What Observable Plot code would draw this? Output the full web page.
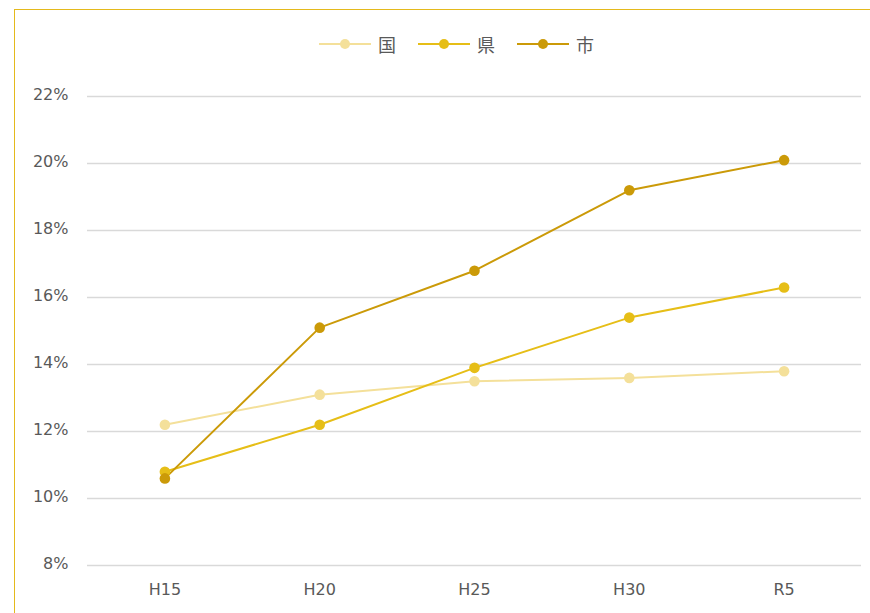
<!DOCTYPE html>
<html>
<head>
<meta charset="utf-8">
<script src="https://cdn.jsdelivr.net/npm/d3@7"></script>
<script src="https://cdn.jsdelivr.net/npm/@observablehq/plot@0.6"></script>
<style>
  html, body { margin: 0; padding: 0; background: #fff; overflow: hidden; }
  body { width: 870px; height: 613px; position: relative; font-family: "DejaVu Sans", Verdana, sans-serif; }
  #frame { position: absolute; left: 14px; top: 9px; width: 900px; height: 700px; border-left: 1.5px solid #e4b91c; border-top: 1.5px solid #e4b91c; box-sizing: border-box; }
  #legend { position: absolute; left: 319px; top: 30px; height: 28px; display: flex; align-items: center; font-family: "Noto Sans CJK JP", sans-serif; font-size: 18px; color: #595959; }
  .item { display: flex; align-items: center; width: 99px; }
  .item svg { margin-right: 7px; }
  #chart { position: absolute; left: 0; top: 60px; }
</style>
</head>
<body>
<div id="frame"></div>
<div id="legend"></div>
<div id="chart"></div>
<script>
const years = ["H15", "H20", "H25", "H30", "R5"];
const seriesNames = ["国", "県", "市"];
const kuni = [12.2, 13.1, 13.5, 13.6, 13.8];
const ken  = [10.8, 12.2, 13.9, 15.4, 16.3];
const shi  = [10.6, 15.1, 16.8, 19.2, 20.1];
const colors = ["#f4e09a", "#e6be17", "#cb9a08"];
const yTicks = [8, 10, 12, 14, 16, 18, 20, 22];

const seriesValues = [kuni, ken, shi];
const data = [];
seriesNames.forEach((s, i) => years.forEach((y, j) => data.push({series: s, year: y, value: seriesValues[i][j]})));

// legend
const legend = document.getElementById("legend");
seriesNames.forEach((s, i) => {
  const it = document.createElement("div");
  it.className = "item";
  it.innerHTML = `<svg width="52" height="12"><line x1="0" y1="6" x2="52" y2="6" stroke="${colors[i]}" stroke-width="2"/><circle cx="26" cy="6" r="5" fill="${colors[i]}"/></svg><span>${s}</span>`;
  legend.appendChild(it);
});

const chart = Plot.plot({
  width: 870,
  height: 553,
  marginTop: 36,
  marginBottom: 48,
  marginLeft: 87,
  marginRight: 9,
  style: { fontFamily: "DejaVu Sans, Verdana, sans-serif", fontSize: "16px", color: "#595959", background: "transparent" },
  x: { type: "point", domain: years, padding: 0.5, round: false, label: null },
  y: { domain: [8, 22], label: null },
  color: { domain: seriesNames, range: colors },
  marks: [
    Plot.ruleY(yTicks, { stroke: "#d9d9d9", strokeWidth: 1.5 }),
    Plot.axisY({ ticks: yTicks, tickFormat: d => d + "%", tickSize: 0, tickPadding: 19, dy: -2 }),
    Plot.axisX({ tickSize: 0, tickPadding: 18 }),
    Plot.line(data, { x: "year", y: "value", z: "series", stroke: "series", strokeWidth: 2 }),
    Plot.dot(data, { x: "year", y: "value", fill: "series", r: 5.3 })
  ]
});
document.getElementById("chart").appendChild(chart);
</script>
</body>
</html>
